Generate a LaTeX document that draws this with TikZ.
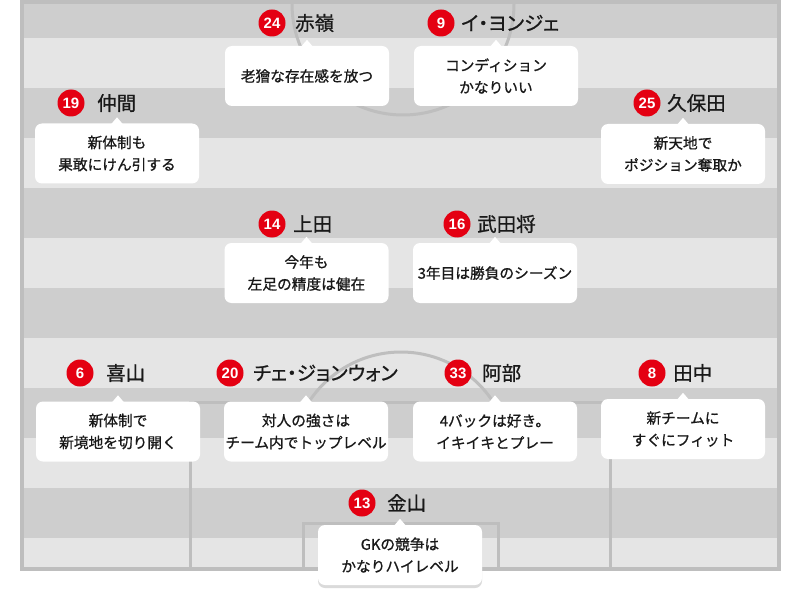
\documentclass[tikz,border=0pt]{standalone}
\usepackage{fontspec}
\setmainfont{Noto Sans CJK JP}[FakeBold=0.5]
\newfontfamily\boxfont{Noto Sans CJK JP}[FakeBold=0.9]
\newfontfamily\namefont{Noto Sans CJK JP}[RawFeature=+palt, FakeBold=0.9]
\newfontfamily\numfont{Liberation Sans}
\usetikzlibrary{shadows}
\definecolor{pdark}{RGB}{206,206,206}
\definecolor{plight}{RGB}{229,229,229}
\definecolor{pline}{RGB}{190,190,190}
\definecolor{pred}{RGB}{228,0,18}
\definecolor{textc}{RGB}{25,25,25}
\definecolor{shadowc}{RGB}{218,218,218}
\tikzset{
  bubble/.style={fill=white, rounded corners=7pt, minimum width=164pt, minimum height=60pt,
    inner sep=0pt, align=center, text=textc, font=\boxfont\fontsize{14.7}{22}\selectfont},
  shadowed/.style={drop shadow={shadow xshift=0pt, shadow yshift=-3pt, fill=shadowc, opacity=1}},
  numdot/.style={circle, fill=pred, minimum size=27pt, inner sep=0pt, text=white,
    font=\numfont\bfseries\fontsize{15}{15}\selectfont},
  pname/.style={anchor=west, inner sep=0pt, text=textc, font=\namefont\fontsize{19.5}{19.5}\selectfont},
  pitchline/.style={draw=pline, line width=3pt},
}
\newcommand\bubptr[1]{\fill[white] ([xshift=-6pt,yshift=-1pt]#1.north) -- ([yshift=6pt]#1.north) -- ([xshift=6pt,yshift=-1pt]#1.north) -- cycle;}
\begin{document}
\begin{tikzpicture}[x=1pt,y=-1pt]
\useasboundingbox (0,0) rectangle (800,604);
\fill[white] (0,0) rectangle (800,604);
% stripes and pitch lines
\begin{scope}
  \clip (22,2) rectangle (779,569);
  \foreach \yy in {-12,88,188,288,388,488}{
    \fill[pdark] (22,\yy) rectangle (779,\yy+50);
    \fill[plight] (22,\yy+50) rectangle (779,\yy+100);
  }
  \draw[pitchline] (403,4) circle[radius=111pt];
  \draw[pitchline] (190,569) -- (190,402) -- (610,402) -- (610,569);
  \draw[pitchline] (303.5,569) -- (303.5,523) -- (498.5,523) -- (498.5,569);
  \begin{scope}
    \clip (0,0) rectangle (800,402);
    \draw[pitchline] (401,462) circle[radius=110pt];
  \end{scope}
\end{scope}
\draw[draw=pline, line width=4pt] (22,2) rectangle (779,569);

% 24
\node[numdot] (c24) at (272,23) {24};
\node[pname] (n24) at (295,23) {赤嶺};
\node[bubble] (b24) at (307,76) {老獪な存在感を放つ};
\bubptr{b24}
% 9
\node[numdot] (c9) at (441,23) {9};
\node[pname] (n9) at (461,23) {イ・ヨンジェ};
\node[bubble] (b9) at (496,76) {コンディション\\かなりいい};
\bubptr{b9}
% 19
\node[numdot] (c19) at (71,103) {19};
\node[pname] (n19) at (97,103) {仲間};
\node[bubble] (b19) at (117,153.5) {新体制も\\果敢にけん引する};
\bubptr{b19}
% 25
\node[numdot] (c25) at (647,103) {25};
\node[pname] (n25) at (667,103) {久保田};
\node[bubble] (b25) at (683,154) {新天地で\\ポジション奪取か};
\bubptr{b25}
% 14
\node[numdot] (c14) at (272,224) {14};
\node[pname] (n14) at (293,224) {上田};
\node[bubble] (b14) at (306.5,273) {今年も\\左足の精度は健在};
\bubptr{b14}
% 16
\node[numdot] (c16) at (457,224) {16};
\node[pname] (n16) at (477,224) {武田将};
\node[bubble] (b16) at (495,273) {3年目は勝負のシーズン};
\bubptr{b16}
% 6
\node[numdot] (c6) at (80,373) {6};
\node[pname] (n6) at (106,373) {喜山};
\node[bubble] (b6) at (118,431.5) {新体制で\\新境地を切り開く};
\bubptr{b6}
% 20
\node[numdot] (c20) at (230,373) {20};
\node[pname] (n20) at (253,373) {チェ・ジョンウォン};
\node[bubble] (b20) at (306,431.5) {対人の強さは\\チーム内でトップレベル};
\bubptr{b20}
% 33
\node[numdot] (c33) at (458,373) {33};
\node[pname] (n33) at (482,373) {阿部};
\node[bubble] (b33) at (495,431.5) {4バックは好き。\\イキイキとプレー};
\bubptr{b33}
% 8
\node[numdot] (c8) at (652,373) {8};
\node[pname] (n8) at (673,373) {田中};
\node[bubble] (b8) at (683,429) {新チームに\\すぐにフィット};
\bubptr{b8}
% 13
\node[numdot] (c13) at (362,503) {13};
\node[pname] (n13) at (387,503) {金山};
\node[bubble, shadowed] (b13) at (400,555) {GKの競争は\\かなりハイレベル};
\bubptr{b13}
\end{tikzpicture}
\end{document}
